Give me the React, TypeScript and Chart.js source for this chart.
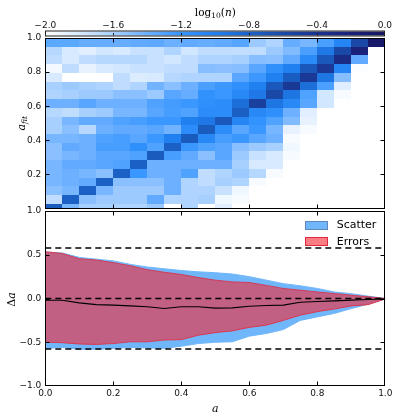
import React, { useEffect, useRef } from 'react';
import { Chart, registerables } from 'chart.js';

Chart.register(...registerables);

// ---------------- DATA ----------------
// Top panel: log10(n) per cell. Rows from the top a_fit bin downwards, columns a = 0..1 in 0.05 bins. null = empty.
const heatRow00 = [-1.34, -1.34, -1.38, -1.38, -1.38, -1.36, -1.35, -1.40, -1.36, -1.38, -1.36, -1.32, -1.56, -1.63, -1.38, -1.44, -1.28, -1.05, -0.58, -0.08];
const heatRow01 = [-1.66, -1.80, -1.84, -1.77, -1.80, -1.73, -1.73, -1.63, -1.77, -1.70, -1.70, -1.71, -1.70, -1.56, -1.47, -1.28, -0.95, -0.58, -0.22, null];
const heatRow02 = [-1.70, -1.80, -1.70, -1.66, -1.66, -1.66, -1.73, -1.77, -1.70, -1.63, -1.63, -1.60, -1.49, -1.50, -1.36, -1.10, -0.72, -0.32, -1.36, null];
const heatRow03 = [-1.94, -1.70, -1.88, -1.80, -1.77, -1.73, -1.73, -1.70, -1.70, -1.49, -1.50, -1.49, -1.33, -1.15, -1.00, -0.72, -0.45, -1.05, -1.98, null];
const heatRow04 = [-1.80, null, null, null, -1.70, -1.82, -1.80, -1.66, -1.63, -1.63, -1.63, -1.33, -1.23, -1.00, -0.76, -0.45, -0.93, -1.49, null, null];
const heatRow05 = [-1.60, -1.56, -1.60, -1.63, -1.70, -1.63, -1.42, -1.50, -1.40, -1.28, -1.23, -1.15, -1.00, -0.72, -0.45, -0.88, -1.28, -1.84, null, null];
const heatRow06 = [-1.63, -1.60, -1.56, -1.56, -1.50, -1.50, -1.56, -1.33, -1.38, -1.17, -1.22, -1.08, -0.95, -0.58, -0.93, -1.30, -1.77, -1.96, null, null];
const heatRow07 = [-1.40, -1.40, -1.33, -1.40, -1.40, -1.40, -1.30, -1.26, -1.22, -1.15, -1.12, -0.88, -0.52, -0.93, -1.08, -1.33, -1.77, null, null, null];
const heatRow08 = [-1.66, -1.70, -1.60, -1.56, -1.44, -1.44, -1.33, -1.27, -1.30, -1.12, -1.12, -0.78, -1.08, -1.15, -1.40, -1.84, null, null, null, null];
const heatRow09 = [-1.60, -1.44, -1.36, -1.36, -1.30, -1.27, -1.22, -1.22, -1.00, -0.95, -0.72, -1.05, -1.18, -1.30, -1.47, -1.88, null, null, null, null];
const heatRow10 = [-1.60, -1.50, -1.66, -1.40, -1.36, -1.36, -1.33, -1.42, -1.12, -0.74, -1.12, -1.33, -1.22, -1.44, -1.88, -1.96, null, null, null, null];
const heatRow11 = [-1.44, -1.44, -1.40, -1.30, -1.27, -1.33, -1.22, -1.00, -0.74, -1.08, -1.27, -1.22, -1.33, -1.40, -1.96, null, null, null, null, null];
const heatRow12 = [-1.50, -1.36, -1.40, -1.27, -1.27, -1.15, -1.30, -0.78, -1.22, -1.30, -1.33, -1.50, -1.56, -1.60, -1.92, null, null, null, null, null];
const heatRow13 = [-1.50, -1.44, -1.40, -1.33, -1.33, -1.30, -0.74, -1.27, -1.36, -1.50, -1.33, -1.56, -1.73, -1.80, -1.96, null, null, null, null, null];
const heatRow14 = [-1.44, -1.36, -1.36, -1.33, -1.30, -0.78, -1.40, -1.40, -1.40, -1.40, -1.40, -1.60, -1.80, -1.80, null, null, null, null, null, null];
const heatRow15 = [-1.44, -1.40, -1.44, -1.50, -0.78, -1.22, -1.40, -1.40, -1.30, -1.70, -1.63, -1.56, -1.66, -1.96, null, null, null, null, null, null];
const heatRow16 = [-1.44, -1.40, -1.36, -0.78, -1.50, -1.50, -1.50, -1.40, -1.63, -1.70, -1.60, -1.63, -1.96, null, null, null, null, null, null, null];
const heatRow17 = [-1.50, -1.44, -0.78, -1.44, -1.56, -1.56, -1.56, -1.40, -1.63, -1.63, -1.73, -1.92, null, null, null, null, null, null, null, null];
const heatRow18 = [-1.70, -0.78, -1.50, -1.56, -1.56, -1.56, -1.36, -1.63, -1.63, -1.60, -1.92, -1.96, null, null, null, null, null, null, null, null];
const heatRow19 = [-0.74, -1.44, -1.60, -1.60, -1.63, -1.63, -1.56, null, -1.63, null, -1.84, null, null, null, null, null, null, null, null, null];
const heatRows = [heatRow00, heatRow01, heatRow02, heatRow03, heatRow04, heatRow05, heatRow06, heatRow07, heatRow08, heatRow09,
  heatRow10, heatRow11, heatRow12, heatRow13, heatRow14, heatRow15, heatRow16, heatRow17, heatRow18, heatRow19];

const aBinWidth = 0.05;
const afitBinTop = 1.0;
const afitBinWidth = 0.0512;

// Colour bar ticks (log10 n) and colour map
const cbTicks = [-2.0, -1.6, -1.2, -0.8, -0.4, 0.0];
const cmapStops = [-2.0, -1.8, -1.6, -1.4, -1.2, -1.0, -0.8, -0.6, -0.4, -0.2, 0.0];
const cmapColors = ['#ffffff', '#d8eaff', '#a8d0ff', '#6cb0ff', '#3494ff', '#2080f0', '#1a62c8', '#1a4aa8', '#1a3290', '#1a2078', '#151560'];

// Bottom panel
const aPoints = [0.0, 0.05, 0.1, 0.15, 0.2, 0.25, 0.3, 0.35, 0.4, 0.45, 0.5, 0.55, 0.6, 0.65, 0.7, 0.75, 0.8, 0.85, 0.9, 0.95, 1.0];
const scatterUpper = [0.53, 0.52, 0.47, 0.45, 0.43, 0.39, 0.36, 0.34, 0.32, 0.305, 0.295, 0.28, 0.25, 0.21, 0.17, 0.145, 0.115, 0.075, 0.055, 0.027, 0.0];
const scatterLower = [-0.57, -0.56, -0.58, -0.58, -0.57, -0.56, -0.565, -0.57, -0.545, -0.515, -0.5, -0.495, -0.43, -0.4, -0.355, -0.25, -0.21, -0.17, -0.115, -0.065, -0.005];
const errorsUpper = [0.535, 0.515, 0.455, 0.44, 0.41, 0.375, 0.33, 0.3, 0.275, 0.24, 0.21, 0.19, 0.183, 0.15, 0.115, 0.095, 0.075, 0.057, 0.038, 0.02, 0.0];
const errorsLower = [-0.5, -0.505, -0.52, -0.525, -0.515, -0.495, -0.495, -0.475, -0.47, -0.42, -0.39, -0.37, -0.33, -0.305, -0.25, -0.19, -0.15, -0.12, -0.085, -0.07, -0.005];
const medianDelta = [-0.02, -0.02, -0.05, -0.07, -0.076, -0.084, -0.095, -0.114, -0.095, -0.095, -0.11, -0.107, -0.088, -0.08, -0.076, -0.042, -0.034, -0.027, -0.019, -0.011, -0.004];
const refLevels = [0.577, 0.0, -0.577];

const aTicks = [0.2, 0.4, 0.6, 0.8];
const afitTicks = [0.2, 0.4, 0.6, 0.8];
const deltaTicks = [-0.5, 0.0, 0.5];
const legendLabels = ['Scatter', 'Errors'];

// ---------------- STYLE / LAYOUT ----------------
const W = 399;
const H = 419;
const LEFT = 45.3;
const RIGHT = 385.3;
const TOP1 = 38;
const BOT1 = 208.5;
const TOP2 = 211;
const BOT2 = 386;

const BLUE = 'rgb(112,182,250)';
const RED_FILL = 'rgba(247,38,50,0.6)';
const RED_EDGE = 'rgb(225,40,60)';
const TICK_FONT = { family: 'DejaVu Sans', size: 9 };
const SERIF = 'DejaVu Serif';

function hexToRgb(h: string) {
  const n = parseInt(h.slice(1), 16);
  return [(n >> 16) & 255, (n >> 8) & 255, n & 255];
}
const cmapRgb = cmapColors.map(hexToRgb);
function cmap(v: number) {
  if (v <= cmapStops[0]) return cmapColors[0];
  for (let i = 1; i < cmapStops.length; i++) {
    if (v <= cmapStops[i]) {
      const t = (v - cmapStops[i - 1]) / (cmapStops[i] - cmapStops[i - 1]);
      const a = cmapRgb[i - 1], b = cmapRgb[i];
      const c = a.map((x, k) => Math.round(x + (b[k] - x) * t));
      return `rgb(${c[0]},${c[1]},${c[2]})`;
    }
  }
  return cmapColors[cmapColors.length - 1];
}

function fmt(v: any) {
  const n = Number(v);
  const s = Math.abs(n) < 1e-9 ? '0.0' : n.toFixed(1);
  return s.replace('-', '\u2212');
}

type Part = { t: string; f: string; dy?: number };
function drawMath(ctx: CanvasRenderingContext2D, parts: Part[], cx: number, cy: number, rot = 0) {
  ctx.save();
  ctx.translate(cx, cy);
  if (rot) ctx.rotate(rot);
  ctx.fillStyle = '#000';
  ctx.textBaseline = 'alphabetic';
  ctx.textAlign = 'left';
  let total = 0;
  const widths = parts.map((p) => { ctx.font = p.f; const w = ctx.measureText(p.t).width; total += w; return w; });
  let x = -total / 2;
  parts.forEach((p, i) => {
    ctx.font = p.f;
    ctx.fillText(p.t, x, 4 + (p.dy || 0));
    x += widths[i];
  });
  ctx.restore();
}

function drawFrameAndTicks(chart: any, xs: any, ys: any, xTicks: number[], yTicks: number[]) {
  const { ctx, chartArea: ca } = chart;
  ctx.save();
  ctx.strokeStyle = '#000';
  ctx.lineWidth = 1;
  const L = Math.round(ca.left) + 0.5, R = Math.round(ca.right) - 0.5;
  const T = Math.round(ca.top) + 0.5, B = Math.round(ca.bottom) - 0.5;
  ctx.beginPath();
  xTicks.forEach((v) => {
    const px = Math.round(xs.getPixelForValue(v)) + 0.5;
    ctx.moveTo(px, B); ctx.lineTo(px, B - 4);
    ctx.moveTo(px, T); ctx.lineTo(px, T + 4);
  });
  yTicks.forEach((v) => {
    const py = Math.round(ys.getPixelForValue(v)) + 0.5;
    ctx.moveTo(L, py); ctx.lineTo(L + 4, py);
    ctx.moveTo(R, py); ctx.lineTo(R - 4, py);
  });
  ctx.stroke();
  ctx.strokeRect(L, T, R - L, B - T);
  ctx.restore();
}

const heatPlugin = {
  id: 'heat',
  beforeDatasetsDraw(chart: any) {
    const { ctx, chartArea: ca, scales } = chart;
    const xs = scales.x, ys = scales.y;
    ctx.save();
    ctx.beginPath();
    ctx.rect(ca.left, ca.top, ca.right - ca.left, ca.bottom - ca.top);
    ctx.clip();
    heatRows.forEach((row, t) => {
      const hi = afitBinTop - t * afitBinWidth;
      const lo = hi - afitBinWidth;
      const y0 = Math.round(ys.getPixelForValue(hi));
      const y1 = Math.round(ys.getPixelForValue(lo));
      row.forEach((v, c) => {
        if (v === null || v === undefined) return;
        const x0 = Math.round(xs.getPixelForValue(c * aBinWidth));
        const x1 = Math.round(xs.getPixelForValue((c + 1) * aBinWidth));
        ctx.fillStyle = cmap(v as number);
        ctx.fillRect(x0, y0, x1 - x0, y1 - y0);
      });
    });
    ctx.restore();
  },
  afterDraw(chart: any) {
    const { ctx, scales } = chart;
    const cb = scales.cb;
    const x0 = cb.getPixelForValue(cmapStops[0]);
    const x1 = cb.getPixelForValue(cmapStops[cmapStops.length - 1]);
    const cbTop = 31.5, cbH = 4;
    const span = cmapStops[cmapStops.length - 1] - cmapStops[0];
    const grad = ctx.createLinearGradient(x0, 0, x1, 0);
    cmapStops.forEach((v, i) => grad.addColorStop((v - cmapStops[0]) / span, cmapColors[i]));
    ctx.save();
    ctx.fillStyle = grad;
    ctx.fillRect(x0, cbTop, x1 - x0, cbH);
    ctx.strokeStyle = '#222';
    ctx.lineWidth = 1;
    ctx.beginPath();
    cbTicks.slice(1, -1).forEach((v) => {
      const px = Math.round(cb.getPixelForValue(v)) + 0.5;
      ctx.moveTo(px, cbTop + cbH); ctx.lineTo(px, cbTop + 1.5);
    });
    ctx.stroke();
    ctx.strokeRect(Math.round(x0) + 0.5, cbTop - 0.5, Math.round(x1 - x0) - 1, cbH + 1);
    ctx.restore();

    drawFrameAndTicks(chart, scales.x, scales.y, aTicks, afitTicks);

    drawMath(ctx, [
      { t: 'log', f: `10.5px ${SERIF}` },
      { t: '10', f: `7.5px ${SERIF}`, dy: 2.5 },
      { t: '(', f: `10.5px ${SERIF}` },
      { t: 'n', f: `italic 10.5px ${SERIF}` },
      { t: ')', f: `10.5px ${SERIF}` },
    ], (LEFT + RIGHT) / 2, 11.5);
    drawMath(ctx, [
      { t: 'a', f: `italic 11px ${SERIF}` },
      { t: 'fit', f: `italic 7.5px ${SERIF}`, dy: 2.5 },
    ], 20.5, (TOP1 + BOT1) / 2, -Math.PI / 2);
  },
};

const bottomPlugin = {
  id: 'bottomDecor',
  afterDraw(chart: any) {
    const { ctx, chartArea: ca, scales } = chart;
    drawFrameAndTicks(chart, scales.x, scales.y, aTicks, deltaTicks);
    // legend
    const fills = [BLUE, RED_FILL];
    const strokes = ['rgb(95,135,185)', RED_EDGE];
    ctx.save();
    legendLabels.forEach((lab, i) => {
      const px = ca.right - 80, py = ca.top + 10 + i * 16.3;
      ctx.fillStyle = fills[i];
      ctx.fillRect(px, py, 22, 8.3);
      ctx.strokeStyle = strokes[i];
      ctx.lineWidth = 1;
      ctx.strokeRect(Math.round(px) + 0.5, Math.round(py) + 0.5, 22, 8);
      ctx.fillStyle = '#000';
      ctx.font = '11px DejaVu Sans';
      ctx.textBaseline = 'middle';
      ctx.textAlign = 'left';
      ctx.fillText(lab, px + 31.4, py + 4.5);
    });
    ctx.restore();
    drawMath(ctx, [
      { t: '\u0394', f: `11px ${SERIF}` },
      { t: 'a', f: `italic 11px ${SERIF}` },
    ], 10.5, (TOP2 + BOT2) / 2 + 1, -Math.PI / 2);
    drawMath(ctx, [{ t: 'a', f: `italic 11px ${SERIF}` }], (LEFT + RIGHT) / 2, 407.5);
  },
};

function pts(ys: number[]) {
  return aPoints.map((x, i) => ({ x, y: ys[i] }));
}

export default function App() {
  const topRef = useRef<HTMLCanvasElement>(null);
  const botRef = useRef<HTMLCanvasElement>(null);

  useEffect(() => {
    const top = new Chart(topRef.current as HTMLCanvasElement, {
      type: 'scatter',
      data: { datasets: [] },
      options: {
        responsive: false,
        animation: false,
        devicePixelRatio: 1,
        layout: { padding: { left: 0, right: W - RIGHT, top: 0, bottom: H - BOT1 } },
        plugins: { legend: { display: false }, tooltip: { enabled: false } },
        scales: {
          x: { type: 'linear', display: false, min: 0, max: 1 },
          cb: {
            type: 'linear', axis: 'x', position: 'top', min: cbTicks[0], max: cbTicks[cbTicks.length - 1],
            afterBuildTicks: (s: any) => { s.ticks = cbTicks.map((v) => ({ value: v })); },
            ticks: { padding: 7, font: TICK_FONT, color: '#111', callback: (v: any) => fmt(v), maxRotation: 0 },
            grid: { display: false, drawTicks: false },
            border: { display: false },
            afterFit: (s: any) => { s.height = TOP1; },
          },
          y: {
            type: 'linear', position: 'left', min: 0, max: 1,
            afterBuildTicks: (s: any) => { s.ticks = [0, ...afitTicks, 1].map((v) => ({ value: v })); },
            ticks: { padding: 4, font: TICK_FONT, color: '#111', callback: (v: any) => (Math.abs(Number(v)) < 1e-9 ? '' : fmt(v)) },
            grid: { display: false, drawTicks: false },
            border: { display: false },
            afterFit: (s: any) => { s.width = LEFT; },
          },
        },
      } as any,
      plugins: [heatPlugin],
    });

    const bottom = new Chart(botRef.current as HTMLCanvasElement, {
      type: 'line',
      data: {
        datasets: [
          { label: 'scatterLower', data: pts(scatterLower), borderColor: BLUE, borderWidth: 1, pointRadius: 0, fill: false, order: 5 },
          { label: 'Scatter', data: pts(scatterUpper), borderColor: BLUE, backgroundColor: BLUE, borderWidth: 1, pointRadius: 0, fill: '-1', order: 4 },
          { label: 'errorsLower', data: pts(errorsLower), borderColor: RED_EDGE, borderWidth: 0.8, pointRadius: 0, fill: false, order: 3 },
          { label: 'Errors', data: pts(errorsUpper), borderColor: RED_EDGE, backgroundColor: RED_FILL, borderWidth: 0.8, pointRadius: 0, fill: '-1', order: 2 },
          { label: 'median', data: pts(medianDelta), borderColor: '#000', borderWidth: 1.1, pointRadius: 0, fill: false, order: 1 },
          ...refLevels.map((v) => ({
            label: 'ref', data: [{ x: 0, y: v }, { x: 1, y: v }], borderColor: '#000', borderWidth: 1.4,
            borderDash: [6, 4], pointRadius: 0, fill: false, order: 0,
          })),
        ],
      },
      options: {
        responsive: false,
        animation: false,
        devicePixelRatio: 1,
        layout: { padding: { left: 0, right: W - RIGHT, top: TOP2, bottom: 0 } },
        plugins: { legend: { display: false }, tooltip: { enabled: false } },
        scales: {
          x: {
            type: 'linear', position: 'bottom', min: 0, max: 1,
            afterBuildTicks: (s: any) => { s.ticks = [0, ...aTicks, 1].map((v) => ({ value: v })); },
            ticks: { padding: 2, font: TICK_FONT, color: '#111', callback: (v: any) => fmt(v), maxRotation: 0 },
            grid: { display: false, drawTicks: false },
            border: { display: false },
            afterFit: (s: any) => { s.height = H - BOT2; },
          },
          y: {
            type: 'linear', position: 'left', min: -1, max: 1,
            afterBuildTicks: (s: any) => { s.ticks = [-1, ...deltaTicks, 1].map((v) => ({ value: v })); },
            ticks: { padding: 4, font: TICK_FONT, color: '#111', callback: (v: any) => fmt(v) },
            grid: { display: false, drawTicks: false },
            border: { display: false },
            afterFit: (s: any) => { s.width = LEFT; },
          },
        },
      } as any,
      plugins: [bottomPlugin],
    });

    return () => {
      top.destroy();
      bottom.destroy();
    };
  }, []);

  const cs: React.CSSProperties = { position: 'absolute', left: 0, top: 0, width: W, height: H };
  return (
    <div style={{ position: 'fixed', left: 0, top: 0, width: W, height: H, background: '#fff' }}>
      <canvas ref={topRef} width={W} height={H} style={cs} />
      <canvas ref={botRef} width={W} height={H} style={cs} />
    </div>
  );
}
